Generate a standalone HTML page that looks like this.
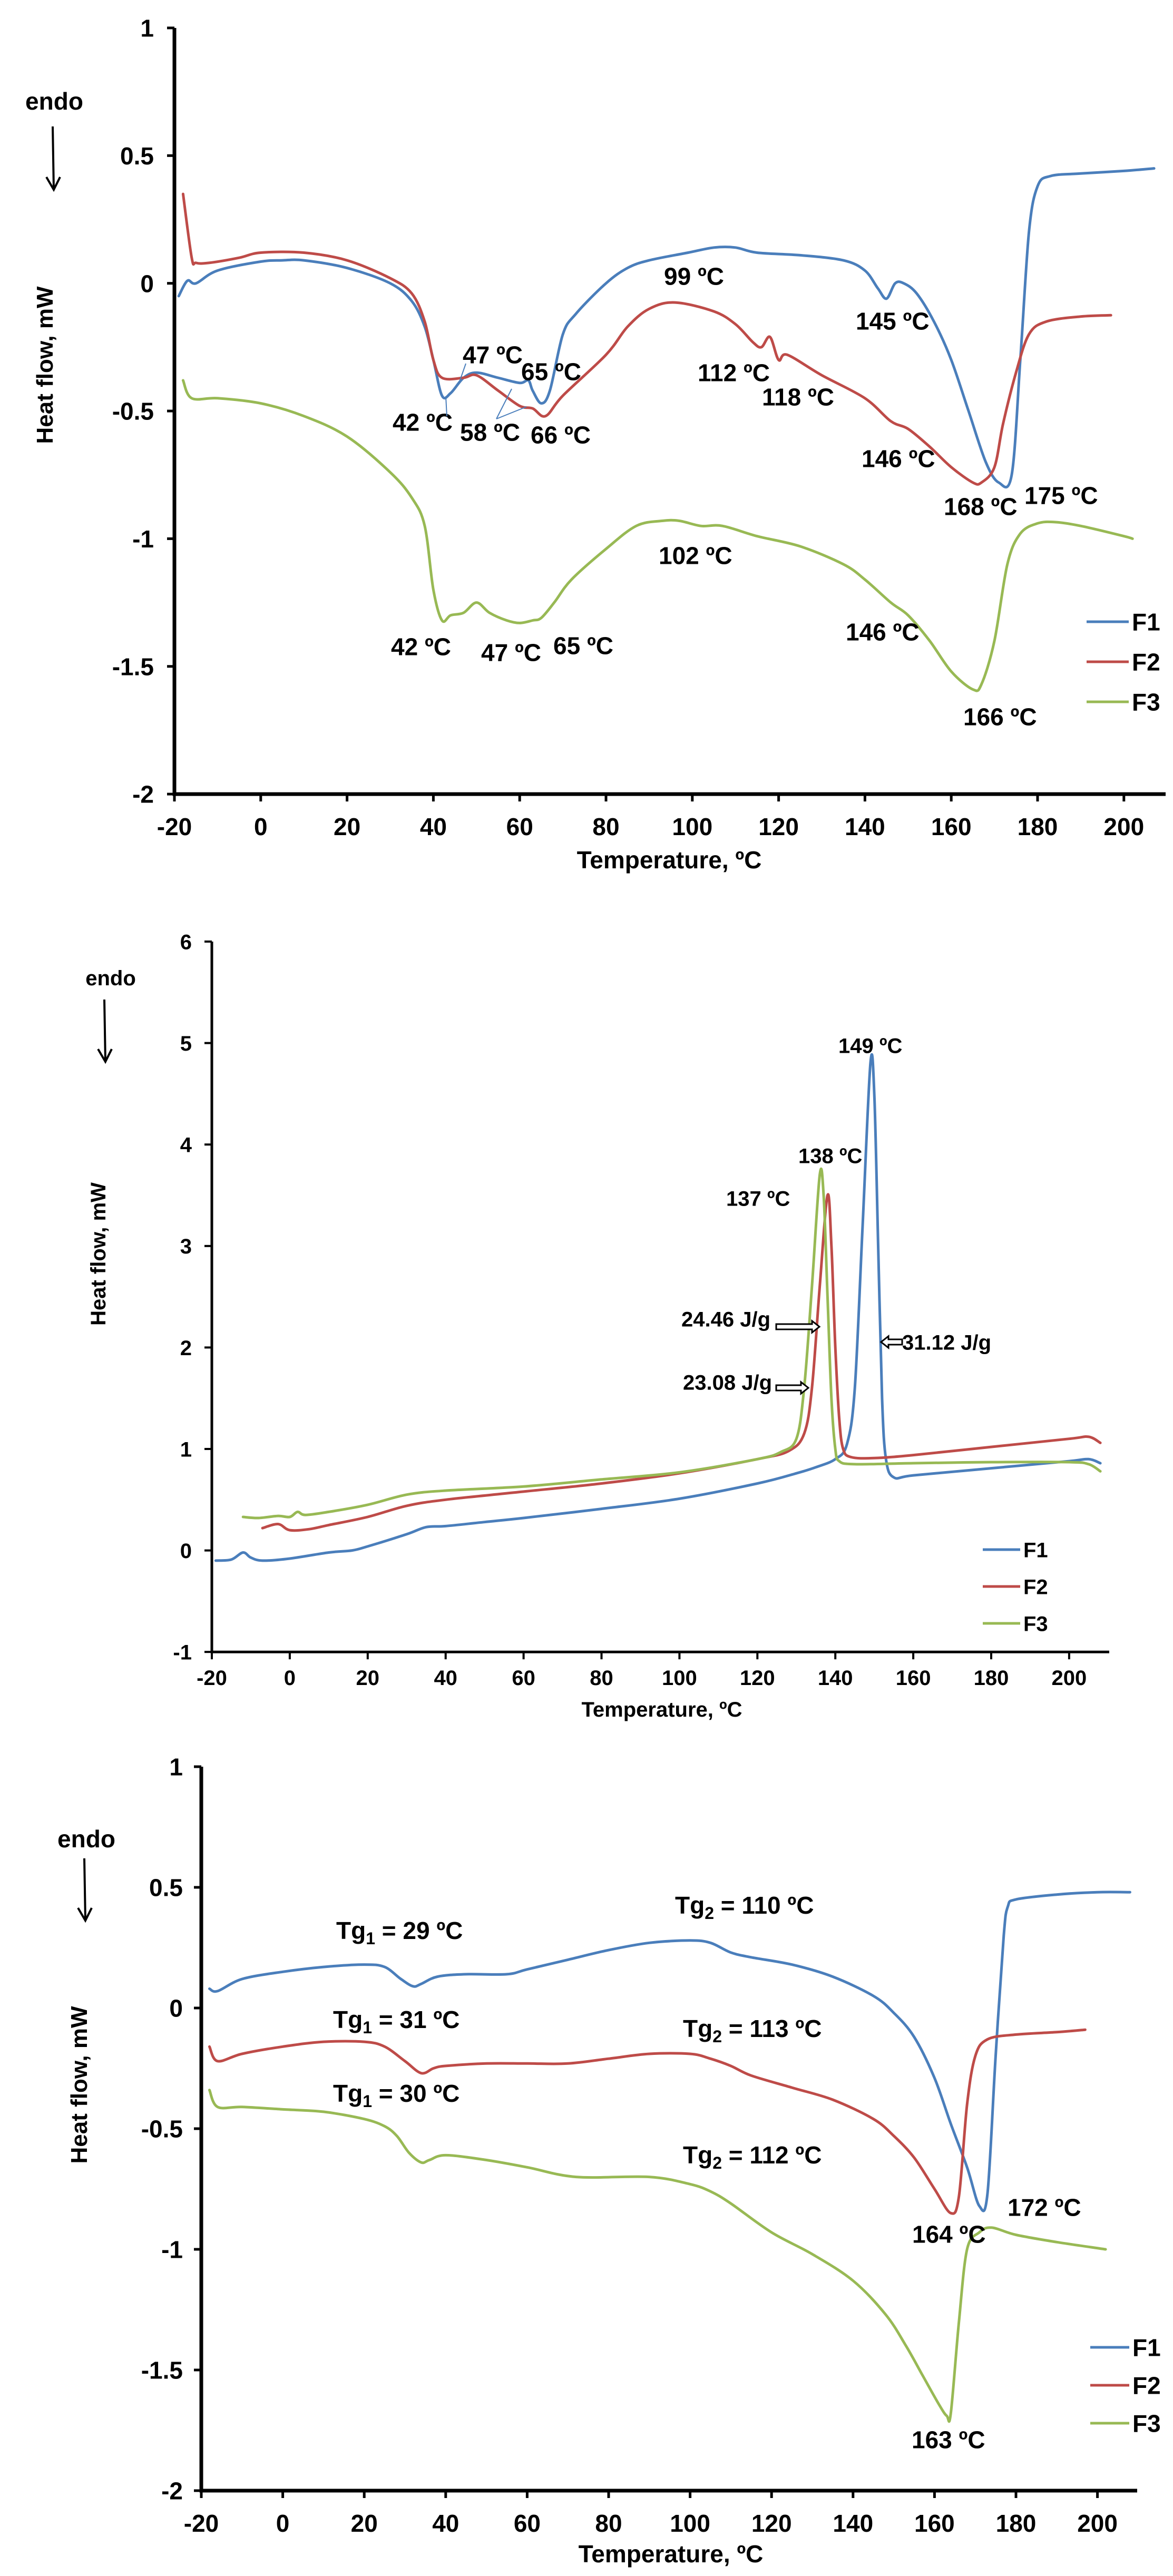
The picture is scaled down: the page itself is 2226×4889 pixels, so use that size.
<!DOCTYPE html>
<html><head><meta charset="utf-8"><style>
html,body{margin:0;padding:0;background:#fff;}
svg{display:block;}
text{font-family:"Liberation Sans Narrow","Liberation Sans",sans-serif;font-weight:bold;fill:#000;}
</style></head><body>
<svg id="svg" width="2226" height="4889" viewBox="0 0 2226 4889" xmlns="http://www.w3.org/2000/svg"></svg>
<script>
// ---------- Chart 1 data ----------
const c1_f1_t=[-19,-17,-15,-10,0,5,10,20,30,35,38,40,42,44,47,50,55,60,62,63,65,67,70,73,80,85,90,99,105,110,115,125,135,140,143,145,147,149,152,156,160,164,168,171,174,176,178,180,183,190,200,207];
const c1_f1_v=[-0.05,0.01,0.0,0.05,0.085,0.09,0.09,0.06,0.0,-0.07,-0.17,-0.3,-0.44,-0.43,-0.37,-0.35,-0.37,-0.39,-0.38,-0.42,-0.47,-0.42,-0.2,-0.12,0.0,0.06,0.09,0.12,0.14,0.14,0.12,0.11,0.09,0.05,-0.02,-0.06,0.0,0.0,-0.04,-0.15,-0.3,-0.5,-0.7,-0.78,-0.75,-0.3,0.2,0.38,0.42,0.43,0.44,0.45];
const c1_f2_t=[-18,-16,-15,-12,-5,0,10,20,30,35,38,40,42,47,50,55,60,63,66,70,80,85,90,96,105,110,114,116,118,120,122,130,140,146,150,155,160,165,167,170,172,175,178,182,190,197];
const c1_f2_v=[0.35,0.1,0.08,0.08,0.1,0.12,0.12,0.09,0.02,-0.04,-0.15,-0.3,-0.37,-0.37,-0.36,-0.42,-0.48,-0.49,-0.52,-0.44,-0.28,-0.17,-0.1,-0.075,-0.11,-0.16,-0.23,-0.25,-0.21,-0.3,-0.28,-0.36,-0.45,-0.54,-0.57,-0.64,-0.72,-0.78,-0.78,-0.72,-0.55,-0.35,-0.2,-0.15,-0.13,-0.125];
const c1_f3_t=[-18,-16,-10,0,10,20,30,35,38,40,42,44,47,50,53,57,60,63,65,68,72,80,87,93,97,102,107,115,125,135,140,146,150,155,160,165,167,170,173,176,180,184,190,200,202];
const c1_f3_v=[-0.38,-0.45,-0.45,-0.47,-0.52,-0.6,-0.74,-0.84,-0.95,-1.2,-1.32,-1.3,-1.29,-1.25,-1.29,-1.32,-1.33,-1.32,-1.31,-1.25,-1.16,-1.04,-0.95,-0.93,-0.93,-0.95,-0.95,-0.99,-1.03,-1.1,-1.16,-1.25,-1.3,-1.4,-1.52,-1.59,-1.57,-1.4,-1.1,-0.98,-0.94,-0.935,-0.95,-0.99,-1.0];
const c1_xticks=[-20,0,20,40,60,80,100,120,140,160,180,200];
const c1_yticks=[1,0.5,0,-0.5,-1,-1.5,-2];
// ---------- Chart 2 data ----------
const c2_f1_t=[-19,-15,-12,-10,-7,0,10,16,20,30,35,40,50,60,80,100,120,130,135,140,143,145,147,149,150,151,152,153,155,160,180,200,205,208];
const c2_f1_v=[-0.1,-0.09,-0.02,-0.07,-0.1,-0.08,-0.02,0.0,0.04,0.16,0.23,0.24,0.28,0.32,0.41,0.51,0.66,0.76,0.82,0.9,1.05,1.6,3.2,4.8,4.5,3.0,1.5,0.9,0.72,0.74,0.81,0.88,0.9,0.86];
const c2_f2_t=[-7,-3,0,5,10,20,30,40,60,80,100,120,128,132,134,136,138,139,140,141,142,144,150,160,180,200,205,208];
const c2_f2_v=[0.22,0.26,0.2,0.21,0.25,0.33,0.44,0.5,0.58,0.66,0.76,0.9,0.98,1.15,1.6,2.6,3.5,3.0,2.0,1.3,1.0,0.92,0.91,0.94,1.02,1.1,1.12,1.06];
const c2_f3_t=[-12,-8,-3,0,2,4,10,20,30,40,60,80,100,120,126,130,132,134,136,137,138,139,140,141,145,160,180,200,205,208];
const c2_f3_v=[0.33,0.32,0.34,0.33,0.38,0.35,0.38,0.45,0.55,0.59,0.63,0.7,0.77,0.9,0.97,1.1,1.6,2.6,3.7,3.5,2.5,1.5,1.0,0.88,0.85,0.86,0.87,0.87,0.85,0.78];
const c2_xticks=[-20,0,20,40,60,80,100,120,140,160,180,200];
const c2_yticks=[6,5,4,3,2,1,0,-1];
// ---------- Chart 3 data ----------
const c3_f1_t=[-18,-16,-10,0,10,20,25,29,32,34,38,45,55,60,70,80,90,100,105,110,115,125,135,145,150,155,160,164,168,171,173,175,177,178,180,190,200,208];
const c3_f1_v=[0.08,0.07,0.12,0.15,0.17,0.18,0.17,0.12,0.09,0.1,0.13,0.14,0.14,0.16,0.2,0.24,0.27,0.28,0.27,0.23,0.21,0.18,0.13,0.05,-0.02,-0.12,-0.29,-0.48,-0.66,-0.82,-0.77,-0.2,0.3,0.42,0.45,0.47,0.48,0.48];
const c3_f2_t=[-18,-16,-10,0,10,20,25,30,34,37,40,50,60,70,80,90,100,105,110,115,125,135,145,150,155,160,164,166,168,170,173,180,190,197];
const c3_f2_v=[-0.16,-0.22,-0.19,-0.16,-0.14,-0.14,-0.16,-0.22,-0.27,-0.25,-0.24,-0.23,-0.23,-0.23,-0.21,-0.19,-0.19,-0.21,-0.24,-0.28,-0.33,-0.38,-0.46,-0.53,-0.62,-0.75,-0.85,-0.78,-0.4,-0.2,-0.13,-0.11,-0.1,-0.09];
const c3_f3_t=[-18,-16,-10,0,10,20,25,28,31,34,36,40,50,60,72,90,100,105,110,120,130,140,148,153,157,161,163,164,166,168,171,174,180,190,202];
const c3_f3_v=[-0.34,-0.41,-0.41,-0.42,-0.43,-0.46,-0.49,-0.53,-0.6,-0.64,-0.63,-0.61,-0.63,-0.66,-0.7,-0.7,-0.73,-0.76,-0.81,-0.93,-1.02,-1.13,-1.27,-1.4,-1.52,-1.64,-1.69,-1.68,-1.3,-1.0,-0.93,-0.91,-0.94,-0.97,-1.0];
const c3_xticks=[-20,0,20,40,60,80,100,120,140,160,180,200];
const c3_yticks=[1,0.5,0,-0.5,-1,-1.5,-2];

const NS="http://www.w3.org/2000/svg";
const svg=document.getElementById('svg');
const COL={F1:'#4a7ebb',F2:'#be4b48',F3:'#98b954'};
function el(tag,attrs,parent){const e=document.createElementNS(NS,tag);for(const k in attrs)e.setAttribute(k,attrs[k]);(parent||svg).appendChild(e);return e;}
function txt(s,x,y,size,anchor,parent){const t=el('text',{x:x,y:y,'font-size':size,'text-anchor':anchor||'start'},parent);t.textContent=s;return t;}
function smooth(pts){let d='M'+pts[0][0].toFixed(1)+','+pts[0][1].toFixed(1);for(let i=0;i<pts.length-1;i++){const p0=pts[Math.max(i-1,0)],p1=pts[i],p2=pts[i+1],p3=pts[Math.min(i+2,pts.length-1)];const c1x=p1[0]+(p2[0]-p0[0])/6,c1y=p1[1]+(p2[1]-p0[1])/6,c2x=p2[0]-(p3[0]-p1[0])/6,c2y=p2[1]-(p3[1]-p1[1])/6;d+=' C'+c1x.toFixed(1)+','+c1y.toFixed(1)+' '+c2x.toFixed(1)+','+c2y.toFixed(1)+' '+p2[0].toFixed(1)+','+p2[1].toFixed(1);}return d;}

function chart(cfg){
  const g=el('g',{});
  
  
  const X=t=>cfg.x0+(t-cfg.tmin)*cfg.pxT;
  const Y=v=>cfg.yTop+(cfg.vmax-v)*cfg.pxV;
  const yBot=Y(cfg.vmin);
  // axes
  const ya=el('line',{x1:cfg.x0,y1:cfg.yTop,x2:cfg.x0,y2:yBot,stroke:'#000','stroke-width':cfg.aw},g);
  
  
  const xa=el('line',{x1:cfg.x0-cfg.aw/2,y1:yBot,x2:cfg.xEnd,y2:yBot,stroke:'#000','stroke-width':cfg.aw},g);
  
  
  cfg.yticks.forEach(v=>{
    el('line',{x1:cfg.x0-14,y1:Y(v),x2:cfg.x0,y2:Y(v),stroke:'#000','stroke-width':cfg.tw},g);
    const t=txt(String(v),cfg.ylabR,Y(v)+cfg.fs*0.36,cfg.fs,'end',g);
    
    
  });
  cfg.xticks.forEach(v=>{
    el('line',{x1:X(v),y1:yBot,x2:X(v),y2:yBot+14,stroke:'#000','stroke-width':cfg.tw},g);
    const t=txt(String(v),X(v),cfg.xlabY,cfg.fs,'middle',g);
    
    
  });
  // titles
  const xt=txt('Temperature, ºC',cfg.xtX,cfg.xtY,cfg.fs,'middle',g);
  
  
  const yt=el('text',{x:0,y:0,'font-size':cfg.yfs,'text-anchor':'middle',transform:'translate('+cfg.ytX+','+cfg.ytY+') rotate(-90)','style':'font-family:"Liberation Sans",sans-serif'},g);
  yt.textContent='Heat flow, mW';
  
  
  const en=txt('endo',cfg.endo[0],cfg.endo[1],cfg.fs,'middle',g);
  
  
  const ar=el('g',{},g);
  
  
  el('line',{x1:cfg.arrow[0],y1:cfg.arrow[1],x2:cfg.arrow[0]+2,y2:cfg.arrow[2],stroke:'#000','stroke-width':4},ar);
  el('polyline',{points:(cfg.arrow[0]-12)+','+(cfg.arrow[2]-24)+' '+(cfg.arrow[0]+2)+','+cfg.arrow[2]+' '+(cfg.arrow[0]+14)+','+(cfg.arrow[2]-24),fill:'none',stroke:'#000','stroke-width':4},ar);
  // series
  cfg.series.forEach(s=>{
    const pts=s.t.map((t,i)=>[X(t),Y(s.v[i])]);
    const p=el('path',{d:smooth(pts),fill:'none',stroke:COL[s.k],'stroke-width':cfg.lw,'stroke-linejoin':'round','stroke-linecap':'round'},g);
    
    
  });
  // legend
  ['F1','F2','F3'].forEach((k,i)=>{
    const lg=el('g',{},g);
    
    
    const yy=cfg.leg[2]+i*cfg.leg[3];
    el('line',{x1:cfg.leg[0],y1:yy,x2:cfg.leg[1],y2:yy,stroke:COL[k],'stroke-width':cfg.lw},lg);
    txt(k,cfg.leg[1]+6,yy+cfg.fs*0.36,cfg.fs,'start',lg);
  });
  // annotations
  cfg.ann.forEach(a=>{
    const t=txt(a[0],a[1],a[2]+cfg.fs*0.36,cfg.fs,'start',g);
    
    
  });
  return {g,X,Y};
}

// Chart 1
const ch1=chart({name:'chart-1',x0:331,tmin:-20,pxT:8.19,yTop:53,vmax:1,vmin:-2,pxV:484.7,xEnd:2212,aw:7,tw:5,lw:5,fs:46,yfs:44,
  yticks:c1_yticks,xticks:c1_xticks,ylabR:292,xlabY:1585,xtX:1270,xtY:1648,ytX:100,ytY:693,endo:[103,208],arrow:[100,240,360],
  leg:[2062,2142,1180,76],
  series:[{k:'F1',t:c1_f1_t,v:c1_f1_v},{k:'F2',t:c1_f2_t,v:c1_f2_v},{k:'F3',t:c1_f3_t,v:c1_f3_v}],
  ann:[['47 ºC',878,673],['65 ºC',989,705],['42 ºC',745,801],['58 ºC',873,820],['66 ºC',1007,825],['99 ºC',1260,524],['112 ºC',1324,707],['118 ºC',1446,753],['145 ºC',1624,609],['146 ºC',1635,870],['168 ºC',1791,961],['175 ºC',1944,940],['102 ºC',1250,1054],['42 ºC',742,1227],['47 ºC',913,1238],['65 ºC',1050,1225],['146 ºC',1605,1199],['166 ºC',1828,1360]]});
// leader lines chart 1
[[848,790,846,752],[884,690,870,730],[942,795,971,738],[942,795,999,772]].forEach(l=>{
  const ln=el('line',{x1:l[0],y1:l[1],x2:l[2],y2:l[3],stroke:COL.F1,'stroke-width':2},ch1.g);
  
  
});

// Chart 2
const ch2=chart({name:'chart-2',x0:402,tmin:-20,pxT:7.395,yTop:1787,vmax:6,vmin:-1,pxV:192.6,xEnd:2105,aw:5,tw:4,lw:5,fs:40,yfs:40,
  yticks:c2_yticks,xticks:c2_xticks,ylabR:364,xlabY:3198,xtX:1256,xtY:3258,ytX:200,ytY:2380,endo:[210,1870],arrow:[198,1897,2015],
  leg:[1865,1936,2941,70],
  series:[{k:'F1',t:c2_f1_t,v:c2_f1_v},{k:'F2',t:c2_f2_t,v:c2_f2_v},{k:'F3',t:c2_f3_t,v:c2_f3_v}],
  ann:[['149 ºC',1591,1984],['138 ºC',1515,2193],['137 ºC',1378,2274],['24.46 J/g',1293,2503],['23.08 J/g',1296,2623],['31.12 J/g',1712,2547]]});
// hollow arrows chart 2
function hollowArrow(x1,x2,y){
  const dir=x2>x1?1:-1;
  const p=[[x1,y-5],[x2-dir*14,y-5],[x2-dir*14,y-11],[x2,y],[x2-dir*14,y+11],[x2-dir*14,y+5],[x1,y+5]];
  const a=el('polygon',{points:p.map(q=>q.join(',')).join(' '),fill:'#fff',stroke:'#000','stroke-width':3},ch2.g);
  
  
}
hollowArrow(1473,1555,2518);
hollowArrow(1473,1534,2634);
hollowArrow(1712,1672,2547);

// Chart 3
chart({name:'chart-3',x0:382,tmin:-20,pxT:7.73,yTop:3353,vmax:1,vmin:-2,pxV:458,xEnd:2158,aw:7,tw:5,lw:5,fs:46,yfs:44,
  yticks:c3_yticks,xticks:c3_xticks,ylabR:347,xlabY:4805,xtX:1273,xtY:4863,ytX:165,ytY:3957,endo:[164,3506],arrow:[160,3527,3645],
  leg:[2069,2143,4455,72],
  series:[{k:'F1',t:c3_f1_t,v:c3_f1_v},{k:'F2',t:c3_f2_t,v:c3_f2_v},{k:'F3',t:c3_f3_t,v:c3_f3_v}],
  ann:[['172 ºC',1912,4189],['164 ºC',1731,4240],['163 ºC',1730,4630]]});
// Tg labels with subscripts
[['1','29',638,3664],['2','110',1281,3616],['1','31',632,3833],['2','113',1296,3850],['1','30',632,3973],['2','112',1296,4090]].forEach(a=>{
  const t=el('text',{x:a[2],y:a[3]+16,'font-size':46});
  
  
  const s1=el('tspan',{},t);s1.textContent='Tg';
  const s2=el('tspan',{dy:10,'font-size':32},t);s2.textContent=a[0];
  const s3=el('tspan',{dy:-10},t);s3.textContent=' = '+a[1]+' ºC';
});
</script>
</body></html>
